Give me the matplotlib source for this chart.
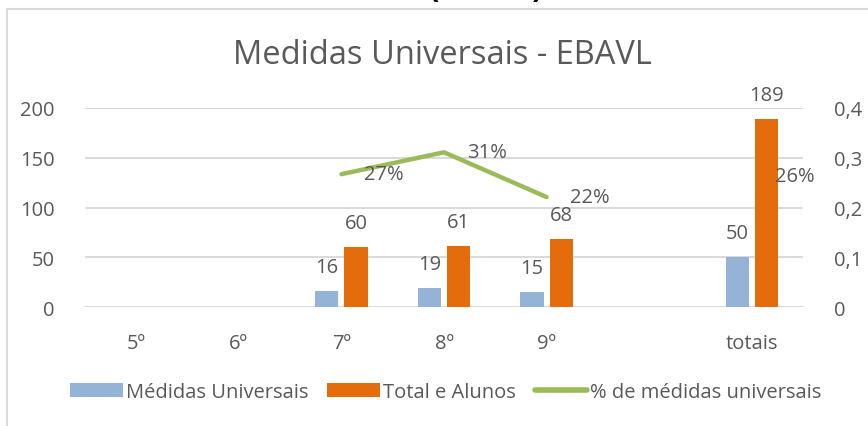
import numpy as np
import matplotlib
matplotlib.use("Agg")
import matplotlib.pyplot as plt
from matplotlib.patches import Rectangle, Patch
from matplotlib.lines import Line2D

categorias = ["5º", "6º", "7º", "8º", "9º", "", "totais"]
medidas = [np.nan, np.nan, 16, 19, 15, np.nan, 50]
total_alunos = [np.nan, np.nan, 60, 61, 68, np.nan, 189]
percent = [np.nan, np.nan, 0.267, 0.311, 0.221, np.nan, 0.264]
y_ticks = [0, 50, 100, 150, 200]
y2_ticks = [0, 0.1, 0.2, 0.3, 0.4]
y2_labels = ["0", "0,1", "0,2", "0,3", "0,4"]

plt.rcParams["font.family"] = ["Open Sans", "DejaVu Sans"]
txt = "#595959"
grid_c = "#D9D9D9"
c_blue = "#95B3D7"
c_orange = "#E46C0A"
c_green = "#9BBB59"
fs = 14.5

fig = plt.figure(figsize=(8.68, 4.27), dpi=100)
ax = fig.add_axes([85 / 868, 1 - 308 / 427, (803 - 85) / 868, (308 - 109) / 427])
ax2 = ax.twinx()

x = np.arange(len(categorias))
w = 0.225
off = 0.142

ax.bar(x - off, medidas, w, color=c_blue, zorder=2)
ax.bar(x + off, total_alunos, w, color=c_orange, zorder=2)

for i in range(len(x)):
    if not np.isnan(medidas[i]):
        ax.annotate(f"{medidas[i]:.0f}", (x[i] - off, medidas[i]), xytext=(0, 19),
                    textcoords="offset pixels", ha="center", va="baseline",
                    fontsize=fs, color=txt)
    if not np.isnan(total_alunos[i]):
        ax.annotate(f"{total_alunos[i]:.0f}", (x[i] + off, total_alunos[i]), xytext=(0, 19),
                    textcoords="offset pixels", ha="center", va="baseline",
                    fontsize=fs, color=txt)

ax2.plot(x, percent, color=c_green, lw=3.2, solid_capstyle="round", solid_joinstyle="round")
for i in range(len(x)):
    if not np.isnan(percent[i]):
        ax2.annotate(f"{percent[i]:.0%}", (x[i], percent[i]), xytext=(23, 0),
                     textcoords="offset pixels", ha="left", va="center",
                     fontsize=fs, color=txt)

ax.set_xlim(-0.5, len(x) - 0.5)
ax.set_ylim(0, 200)
ax2.set_ylim(0, 0.4)
ax.set_yticks(y_ticks)
ax2.set_yticks(y2_ticks)
ax2.set_yticklabels(y2_labels)
ax.set_xticks(x)
ax.set_xticklabels(categorias)

ax.yaxis.grid(True, color=grid_c, lw=1.4)
ax.set_axisbelow(True)
for a in (ax, ax2):
    for s in a.spines.values():
        s.set_visible(False)
    a.tick_params(length=0, labelsize=fs, labelcolor=txt)
ax.tick_params(axis="y", pad=22)
ax2.tick_params(axis="y", pad=22)
ax.tick_params(axis="x", pad=19)

fig.text(442 / 868, 1 - 55 / 427, "Medidas Universais - EBAVL", ha="center", va="center",
         fontsize=23.5, color=txt)

handles = [
    Patch(facecolor=c_blue, edgecolor="none"),
    Patch(facecolor=c_orange, edgecolor="none"),
    Line2D([], [], color=c_green, lw=4, solid_capstyle="round"),
]
labels = ["Médidas Universais", "Total e Alunos", "% de médidas universais"]
fig.legend(handles, labels, loc="center", bbox_to_anchor=(446 / 868, 1 - 393 / 427),
           ncol=3, frameon=False, fontsize=fs, labelcolor=txt, handlelength=2.6,
           handleheight=0.7, handletextpad=0.15, columnspacing=0.95)

# moldura do grafico
fig.add_artist(Rectangle((7 / 868, -0.2), 1.2, 1.2 - 10 / 427, fill=False,
                         ec=grid_c, lw=1.5, transform=fig.transFigure))

# titulo cortado no topo
fig.text(486 / 868, 1 + 3 / 427, "(EBAVL)", ha="center", va="baseline",
         fontsize=22, weight="bold", color="black")

fig.savefig("out.png", dpi=100)
